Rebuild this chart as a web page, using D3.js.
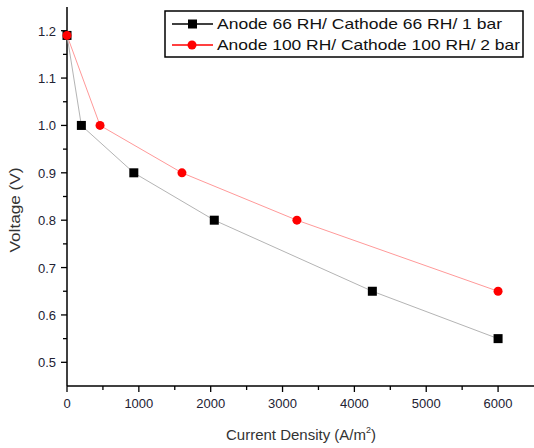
<!DOCTYPE html>
<html>
<head>
<meta charset="utf-8">
<script src="https://cdn.jsdelivr.net/npm/d3@7"></script>
<style>
  body { margin: 0; background: #fff; }
  text { font-family: "Liberation Sans", Arial, sans-serif; }
</style>
</head>
<body>
<script>
// series data
const blackX = [0, 200, 930, 2050, 4250, 6000];
const blackY = [1.19, 1.0, 0.9, 0.8, 0.65, 0.55];
const redX = [0, 460, 1600, 3200, 6000];
const redY = [1.19, 1.0, 0.9, 0.8, 0.65];
const seriesNames = ["Anode 66 RH/ Cathode 66 RH/ 1 bar", "Anode 100 RH/ Cathode 100 RH/ 2 bar"];
const xTicks = [0, 1000, 2000, 3000, 4000, 5000, 6000];
const yTicks = [0.5, 0.6, 0.7, 0.8, 0.9, 1.0, 1.1, 1.2];

const width = 534, height = 448;
const svg = d3.select('body').append('svg')
  .attr('width', width)
  .attr('height', height);

const x = d3.scaleLinear().domain([0, 6500]).range([67, 534]);
const y = d3.scaleLinear().domain([0.45, 1.25]).range([386, 7]);

// minor ticks
const xMinor = d3.range(500, 6500, 1000);
const yMinor = d3.range(0.55, 1.25, 0.1);

const gx = svg.append('g').attr('transform', 'translate(0,386)');
gx.append('line').attr('x1', x(0)).attr('x2', width).attr('stroke', '#000').attr('stroke-width', 1.5);
gx.selectAll('.maj').data(xTicks).enter().append('line')
  .attr('x1', d => x(d)).attr('x2', d => x(d)).attr('y1', 0).attr('y2', 6)
  .attr('stroke', '#000').attr('stroke-width', 1.3);
gx.selectAll('.min').data(xMinor).enter().append('line')
  .attr('x1', d => x(d)).attr('x2', d => x(d)).attr('y1', 0).attr('y2', 4)
  .attr('stroke', '#000').attr('stroke-width', 1.3);
gx.selectAll('.lab').data(xTicks).enter().append('text')
  .attr('x', d => x(d)).attr('y', 22)
  .attr('text-anchor', 'middle')
  .attr('font-size', 13).attr('fill', '#223')
  .text(d => d);

const gy = svg.append('g').attr('transform', 'translate(67,0)');
gy.append('line').attr('y1', y(0.45)).attr('y2', y(1.25)).attr('stroke', '#000').attr('stroke-width', 1.5);
gy.selectAll('.maj').data(yTicks).enter().append('line')
  .attr('y1', d => y(d)).attr('y2', d => y(d)).attr('x1', 0).attr('x2', -6)
  .attr('stroke', '#000').attr('stroke-width', 1.3);
gy.selectAll('.min').data(yMinor).enter().append('line')
  .attr('y1', d => y(d)).attr('y2', d => y(d)).attr('x1', 0).attr('x2', -4)
  .attr('stroke', '#000').attr('stroke-width', 1.3);
gy.selectAll('.lab').data(yTicks).enter().append('text')
  .attr('x', -11).attr('y', d => y(d) + 5)
  .attr('text-anchor', 'end')
  .attr('font-size', 13).attr('fill', '#223')
  .text(d => d3.format('.1f')(d));

// axis titles
svg.append('text')
  .attr('transform', 'translate(20,210) rotate(-90)')
  .attr('text-anchor', 'middle')
  .attr('font-size', 14).attr('fill', '#333')
  .attr('textLength', 85).attr('lengthAdjust', 'spacingAndGlyphs')
  .text('Voltage (V)');

const xt = svg.append('text')
  .attr('x', 301).attr('y', 440)
  .attr('text-anchor', 'middle')
  .attr('font-size', 15).attr('fill', '#333')
  .text('Current Density (A/m');
xt.append('tspan').attr('font-size', 9).attr('dy', -7).text('2');
xt.append('tspan').attr('dy', 7).text(')');

// lines
const line = d3.line().x(d => x(d[0])).y(d => y(d[1]));
const blackData = blackX.map((v, i) => [v, blackY[i]]);
const redData = redX.map((v, i) => [v, redY[i]]);

svg.append('path').datum(redData).attr('d', line)
  .attr('fill', 'none').attr('stroke', '#f99').attr('stroke-width', 1);
svg.append('path').datum(blackData).attr('d', line)
  .attr('fill', 'none').attr('stroke', '#b4b4b4').attr('stroke-width', 1);

svg.selectAll('.sq').data(blackData).enter().append('rect')
  .attr('x', d => x(d[0]) - 4.5).attr('y', d => y(d[1]) - 4.5)
  .attr('width', 9).attr('height', 9).attr('fill', '#000');
svg.selectAll('.ci').data(redData).enter().append('circle')
  .attr('cx', d => x(d[0])).attr('cy', d => y(d[1])).attr('r', 4.5)
  .attr('fill', '#f00');

// legend
const lg = svg.append('g');
lg.append('rect').attr('x', 165).attr('y', 11).attr('width', 358).attr('height', 46)
  .attr('fill', '#fff').attr('stroke', '#000').attr('stroke-width', 1.5);
const legendColors = ['#000', '#f00'];
const legendLens = [285, 303];
seriesNames.forEach((name, i) => {
  const cy = 24 + i * 21;
  lg.append('line').attr('x1', 172).attr('x2', 213).attr('y1', cy).attr('y2', cy)
    .attr('stroke', legendColors[i]).attr('stroke-width', 1.3);
  if (i === 0) {
    lg.append('rect').attr('x', 188).attr('y', cy - 4.5).attr('width', 9).attr('height', 9).attr('fill', '#000');
  } else {
    lg.append('circle').attr('cx', 192).attr('cy', cy).attr('r', 4.5).attr('fill', '#f00');
  }
  lg.append('text').attr('x', 217).attr('y', cy + 5)
    .attr('font-size', 15).attr('fill', '#111')
    .attr('textLength', legendLens[i]).attr('lengthAdjust', 'spacingAndGlyphs')
    .text(name);
});
</script>
</body>
</html>
